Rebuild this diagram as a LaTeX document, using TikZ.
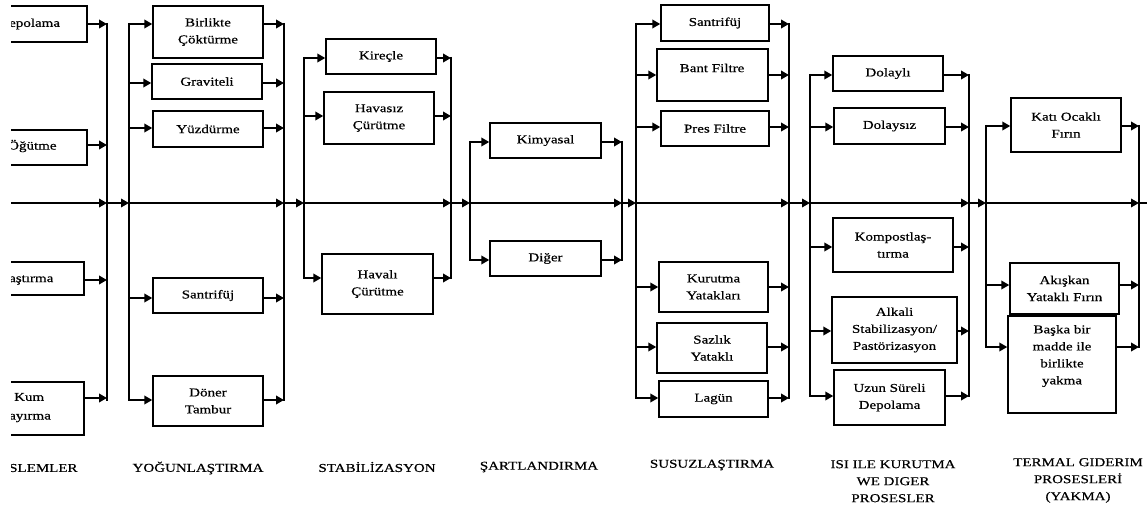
\documentclass[tikz,border=0pt]{standalone}
\usepackage{fontspec}
\setmainfont{Liberation Serif}[FakeStretch=1.25,FakeBold=0.6]
\usetikzlibrary{arrows.meta}
\tikzset{
  box/.style={draw, line width=1.4pt, inner sep=0pt, align=center, font=\fontsize{12}{17}\selectfont},
  txt/.style={inner sep=0pt, align=center, font=\fontsize{12}{17}\selectfont},
  conn/.style={line width=2pt, -{Triangle[length=8pt,width=8.5pt]}},
  bus/.style={line width=2.2pt},
  mainl/.style={line width=1.8pt, -{Triangle[length=8pt,width=8.5pt]}},
  plain/.style={line width=1.8pt}
}
\newcommand\mybox[6]{%
  \node[box, minimum width={(#3-#2)*1pt}, minimum height={(#5-#4)*1pt}] (#1) at ({(#2+#3)/2},{(#4+#5)/2}) {#6};}
\newcommand\inarr[3]{% x, y, box
  \coordinate (#3-in) at (#1,#2);
  \draw[conn] (#3-in) -- (#3-in -| #3.west);}
\newcommand\outarr[3]{% x, y, box
  \coordinate (#3-out) at (#1,#2);
  \draw[conn] (#3-out -| #3.east) -- (#3-out);}
\newcommand\busline[4]{% name, x, ytop, ybot
  \coordinate (#1t) at (#2,#3);
  \coordinate (#1b) at (#2,#4);
  \draw[bus] (#1t) -- (#1b);}
\begin{document}
\begin{tikzpicture}[x=1pt,y=-1pt]
\useasboundingbox (0,0) rectangle (1147,513);
\clip (11,0) rectangle (1147,513);

% ---------- column 1 (cut off) ----------
\mybox{depo}{-10}{87}{6}{42}{}
\node[txt,anchor=west] (depoT) at (9,24) {epolama};
\mybox{ogut}{-10}{87}{130}{165}{}
\node[txt,anchor=west] (ogutT) at (8,146) {Öğütme};
\mybox{kar}{-10}{84}{262}{295}{}
\node[txt,anchor=west] (karT) at (9,280) {aştırma};
\mybox{kum}{-10}{84}{382}{435}{}
\node[txt,anchor=west] (kumT) at (14,397) {Kum};
\node[txt,anchor=west] (kumT2) at (9,418) {ayırma};
\busline{c1R}{107}{23}{401}
\outarr{107}{24}{depo}
\outarr{107}{145}{ogut}
\outarr{107}{280}{kar}
\outarr{107}{398}{kum}

% ---------- column 2 ----------
\mybox{birl}{153}{263}{6}{58}{Birlikte\\Çöktürme}
\mybox{grav}{152}{262}{64}{99}{Graviteli}
\mybox{yuzd}{153}{263}{111}{147}{Yüzdürme}
\mybox{sant}{153}{263}{278}{313}{Santrifüj}
\mybox{doner}{153}{263}{376}{426}{Döner\\Tambur}
\busline{c2L}{129}{23}{401}
\busline{c2R}{284}{23}{401}
\inarr{129}{24}{birl}   \outarr{284}{24}{birl}
\inarr{129}{83}{grav}   \outarr{284}{83}{grav}
\inarr{129}{128}{yuzd}  \outarr{284}{128}{yuzd}
\inarr{129}{298}{sant}  \outarr{284}{298}{sant}
\inarr{129}{400}{doner} \outarr{284}{400}{doner}

% ---------- column 3 ----------
\mybox{kirec}{326}{436}{39}{74}{Kireçle}
\mybox{havasiz}{324}{434}{92}{144}{Havasız\\Çürütme}
\mybox{havali}{322}{433}{254}{314}{Havalı\\Çürütme}
\busline{c3L}{304}{57}{279}
\busline{c3R}{451}{57}{279}
\inarr{304}{58}{kirec}    \outarr{451}{58}{kirec}
\inarr{304}{116}{havasiz} \outarr{451}{116}{havasiz}
\inarr{304}{278}{havali}  \outarr{451}{278}{havali}

% ---------- column 4 ----------
\mybox{kimya}{490}{601}{123}{158}{Kimyasal}
\mybox{diger}{490}{601}{241}{276}{Diğer}
\busline{c4L}{470}{141}{261}
\busline{c4R}{622}{141}{261}
\inarr{470}{142}{kimya} \outarr{622}{142}{kimya}
\inarr{470}{260}{diger} \outarr{622}{260}{diger}

% ---------- column 5 ----------
\mybox{sant2}{661}{769}{5}{41}{Santrifüj}
\mybox{bant}{657}{768}{49}{101}{}
\node[txt] (bantT) at (712,68) {Bant Filtre};
\mybox{pres}{661}{769}{111}{146}{Pres Filtre}
\mybox{kuruy}{659}{768}{262}{312}{Kurutma\\Yatakları}
\mybox{sazlik}{657}{767}{323}{373}{Sazlık\\Yataklı}
\mybox{lagun}{659}{768}{381}{417}{Lagün}
\busline{c5L}{636}{23}{399}
\busline{c5R}{789}{23}{399}
\inarr{636}{24}{sant2}   \outarr{789}{24}{sant2}
\inarr{636}{75}{bant}    \outarr{789}{75}{bant}
\inarr{636}{127}{pres}   \outarr{789}{127}{pres}
\inarr{636}{287}{kuruy}  \outarr{789}{287}{kuruy}
\inarr{636}{347}{sazlik} \outarr{789}{347}{sazlik}
\inarr{636}{398}{lagun}  \outarr{789}{398}{lagun}

% ---------- column 6 ----------
\mybox{dolayli}{833}{943}{56}{91}{Dolaylı}
\mybox{dolaysiz}{834}{945}{108}{144}{Dolaysız}
\mybox{kompost}{833}{953}{218}{272}{Kompostlaş-\\tırma}
\mybox{alkali}{832}{957}{297}{363}{Alkali\\Stabilizasyon/\\Pastörizasyon}
\mybox{uzun}{834}{945}{370}{425}{Uzun Süreli\\Depolama}
\busline{c6L}{810}{74}{397}
\busline{c6R}{969}{74}{397}
\inarr{810}{75}{dolayli}   \outarr{969}{75}{dolayli}
\inarr{810}{127}{dolaysiz} \outarr{969}{127}{dolaysiz}
\inarr{810}{247}{kompost}  \outarr{969}{247}{kompost}
\inarr{810}{331}{alkali}   \outarr{969}{331}{alkali}
\inarr{810}{396}{uzun}     \outarr{969}{396}{uzun}

% ---------- column 7 ----------
\mybox{kati}{1011}{1121}{98}{152}{Katı Ocaklı\\Fırın}
\mybox{akiskan}{1010}{1119}{263}{314}{Akışkan\\Yataklı Fırın}
\mybox{baska}{1008}{1116}{316}{413}{}
\node[txt] (baskaT) at (1062,356) {Başka bir\\madde ile\\birlikte\\yakma};
\busline{c7L}{986}{125}{348}
\busline{c7R}{1139}{125}{348}
\inarr{986}{126}{kati}    \outarr{1139}{126}{kati}
\inarr{986}{285}{akiskan} \outarr{1139}{285}{akiskan}
\inarr{986}{347}{baska}   \outarr{1139}{347}{baska}

% ---------- main line ----------
\coordinate (m0) at (0,203);
\coordinate (m1) at (107,203);
\coordinate (m2) at (129,203);
\coordinate (m3) at (284,203);
\coordinate (m4) at (304,203);
\coordinate (m5) at (451,203);
\coordinate (m6) at (470,203);
\coordinate (m7) at (622,203);
\coordinate (m8) at (636,203);
\coordinate (m9) at (789,203);
\coordinate (m10) at (810,203);
\coordinate (m11) at (969,203);
\coordinate (m12) at (986,203);
\coordinate (m13) at (1139,203);
\coordinate (m14) at (1147,203);
\foreach \a/\b in {m0/m1,m1/m2,m2/m3,m3/m4,m4/m5,m5/m6,m6/m7,m7/m8,m8/m9,m9/m10,m10/m11,m11/m12,m12/m13}
  \draw[mainl] (\a) -- (\b);
\draw[plain] (m13) -- (m14);

% ---------- stage labels ----------
\node[txt,anchor=west] (l1) at (9,468) {SLEMLER};
\node[txt] (l2) at (198,468) {YOĞUNLAŞTIRMA};
\node[txt] (l3) at (377,467) {STABİLİZASYON};
\node[txt] (l4) at (539,467) {ŞARTLANDIRMA};
\node[txt] (l5) at (712,465) {SUSUZLAŞTIRMA};
\node[txt,anchor=north] (l6) at (893,460) {ISI ILE KURUTMA\\WE DIGER\\PROSESLER};
\node[txt,anchor=north] (l7) at (1078,458) {TERMAL GIDERIM\\PROSESLERİ\\(YAKMA)};
\end{tikzpicture}
\end{document}
